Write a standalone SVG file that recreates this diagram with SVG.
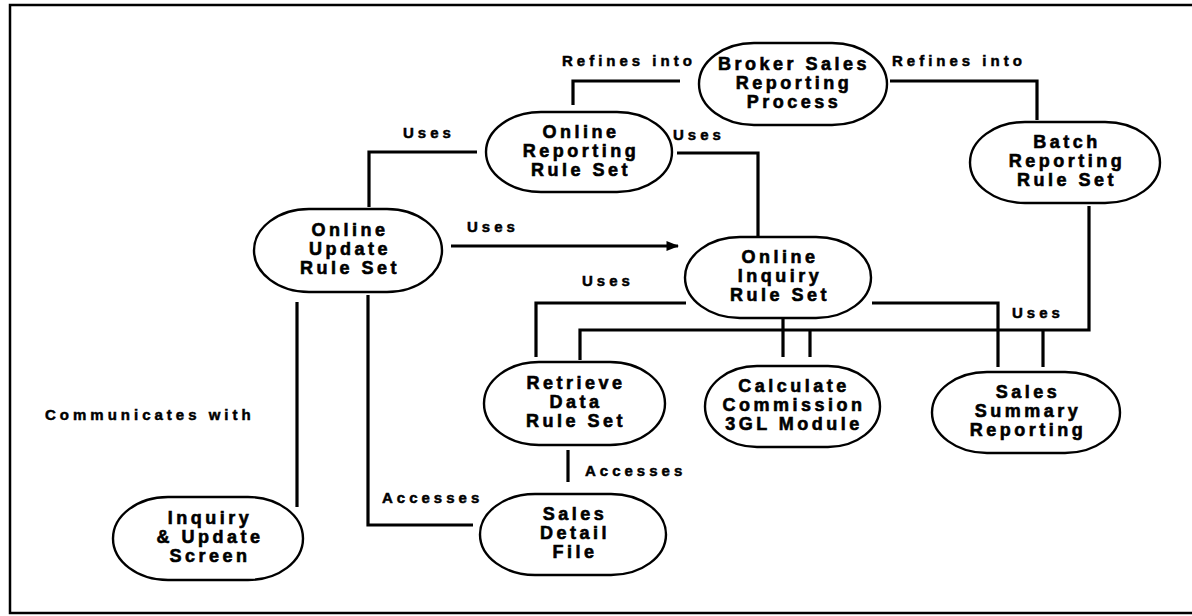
<svg xmlns="http://www.w3.org/2000/svg" width="1192" height="616" viewBox="0 0 1192 616">
<defs>
<style>
.node rect{fill:#fff;stroke:#000;stroke-width:2.4}
.node text{font-family:"Liberation Sans",Arial,sans-serif;font-weight:bold;font-size:18px;letter-spacing:3.5px;text-anchor:middle;fill:#000;stroke:#000;stroke-width:0.6}
.conn path{fill:none;stroke:#000;stroke-width:3.2}
.lbl{font-family:"Liberation Sans",Arial,sans-serif;font-weight:bold;font-size:15px;letter-spacing:4px;fill:#000;stroke:#000;stroke-width:0.5}
</style>
<marker id="arr" viewBox="0 0 10 10" refX="9" refY="5" markerWidth="4" markerHeight="4" orient="auto" markerUnits="strokeWidth">
<path d="M0,1 L10,5 L0,9 Z" fill="#000"/>
</marker>
</defs>
<rect width="1192" height="616" fill="#fff"/>
<rect x="10" y="5" width="1200" height="608" fill="none" stroke="#000" stroke-width="2.5"/>

<g id="connectors" class="conn">
<path d="M680,81 H573 V105"/>
<path d="M890,81 H1037 V120"/>
<path d="M477,152 H369 V207"/>
<path d="M677,153 H758 V236"/>
<path d="M451,246 H678" marker-end="url(#arr)"/>
<path d="M686,303 H536 V357"/>
<path d="M783,318 V357"/>
<path d="M872,303 H998 V367"/>
<path d="M1089,206 V330 H580 V360"/>
<path d="M810,330 V357"/>
<path d="M1043,330 V367"/>
<path d="M297,302 V507"/>
<path d="M368,295 V525 H473"/>
<path d="M568,450 V482"/>
</g>

<g id="labels">
<text class="lbl" x="562" y="66">Refines into</text>
<text class="lbl" x="892" y="66">Refines into</text>
<text class="lbl" x="403" y="138">Uses</text>
<text class="lbl" x="673" y="140">Uses</text>
<text class="lbl" x="467" y="232">Uses</text>
<text class="lbl" x="582" y="286">Uses</text>
<text class="lbl" x="1012" y="318">Uses</text>
<text class="lbl" x="45" y="420" letter-spacing="4.3">Communicates with</text>
<text class="lbl" x="382" y="503">Accesses</text>
<text class="lbl" x="585" y="476">Accesses</text>
</g>

<g id="broker" class="node">
<rect x="699" y="43" width="188" height="82" rx="55" ry="41"/>
<text x="794" y="70">Broker Sales</text>
<text x="794" y="89">Reporting</text>
<text x="794" y="108">Process</text>
</g>
<g id="online-reporting" class="node">
<rect x="486" y="112" width="186" height="80" rx="55" ry="40"/>
<text x="581" y="138">Online</text>
<text x="581" y="157">Reporting</text>
<text x="581" y="176">Rule Set</text>
</g>
<g id="batch-reporting" class="node">
<rect x="970" y="122" width="190" height="81" rx="55" ry="40.5"/>
<text x="1067" y="148">Batch</text>
<text x="1067" y="167">Reporting</text>
<text x="1067" y="186">Rule Set</text>
</g>
<g id="online-update" class="node">
<rect x="254" y="209" width="188" height="83" rx="55" ry="41.5"/>
<text x="350" y="236">Online</text>
<text x="350" y="255">Update</text>
<text x="350" y="274">Rule Set</text>
</g>
<g id="online-inquiry" class="node">
<rect x="685" y="237" width="186" height="81" rx="55" ry="40.5"/>
<text x="780" y="263">Online</text>
<text x="780" y="282">Inquiry</text>
<text x="780" y="301">Rule Set</text>
</g>
<g id="retrieve-data" class="node">
<rect x="484" y="362" width="181" height="83" rx="55" ry="41.5"/>
<text x="576" y="389">Retrieve</text>
<text x="576" y="408">Data</text>
<text x="576" y="427">Rule Set</text>
</g>
<g id="calculate-commission" class="node">
<rect x="705" y="366" width="175" height="81" rx="52" ry="40.5"/>
<text x="794" y="392">Calculate</text>
<text x="794" y="411">Commission</text>
<text x="794" y="430">3GL Module</text>
</g>
<g id="sales-summary" class="node">
<rect x="932" y="372" width="188" height="81" rx="55" ry="40.5"/>
<text x="1028" y="398">Sales</text>
<text x="1028" y="417">Summary</text>
<text x="1028" y="436">Reporting</text>
</g>
<g id="inquiry-update-screen" class="node">
<rect x="113" y="497" width="190" height="83" rx="55" ry="41.5"/>
<text x="210" y="524">Inquiry</text>
<text x="210" y="543">&amp; Update</text>
<text x="210" y="562">Screen</text>
</g>
<g id="sales-detail" class="node">
<rect x="480" y="494" width="186" height="81" rx="55" ry="40.5"/>
<text x="575" y="520">Sales</text>
<text x="575" y="539">Detail</text>
<text x="575" y="558">File</text>
</g>
</svg>
